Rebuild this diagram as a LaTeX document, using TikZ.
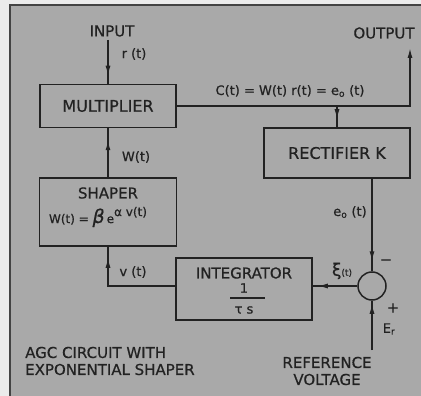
\documentclass[tikz,border=0pt]{standalone}
\usepackage{fontspec}
\setmainfont{DejaVu Sans}[FakeBold=0.6]
\usepackage{tikz}
\usetikzlibrary{arrows.meta,decorations.markings}
\definecolor{sfondo}{HTML}{A9A9A9}
\definecolor{margine}{HTML}{EBEBEB}
\definecolor{inchiostro}{HTML}{222222}

\begin{document}
\begin{tikzpicture}[x=1pt, y=-1pt,
        every node/.style={font=\fontsize{13}{14}\selectfont, text=inchiostro, inner sep=0pt},
        blocco/.style={draw=inchiostro, line width=1.5pt, rectangle,
            font=\fontsize{16}{18}\selectfont},
        titolo/.style={font=\fontsize{15}{17}\selectfont},
        filo/.style={draw=inchiostro, line width=1.5pt},
        punta/.style={postaction={decorate}, decoration={markings,
            mark=at position -#1 with {\arrow{Latex[length=10pt,width=5pt]}}}}]
    % Sfondo grigio con cornice (tagliata a destra e in basso)
    \useasboundingbox (0,0) rectangle (421,396);
    \fill[margine] (0,0) rectangle (421,396);
    \fill[sfondo] (10,5) rectangle (421,396);
    \draw[inchiostro!85, line width=1.5pt] (10,396) -- (10,5) -- (421,5);

    % Blocchi
    \node[blocco, minimum width=136pt, minimum height=43pt] (molt) at (108,106) {MULTIPLIER};
    \node[blocco, minimum width=146pt, minimum height=50pt] (rett) at (337,153) {RECTIFIER K};
    \node[blocco, minimum width=137pt, minimum height=68pt] (form) at (108,212) {};
    \node[blocco, minimum width=136pt, minimum height=62pt] (integ) at (244,289) {};
    \node[draw=inchiostro, line width=1.5pt, circle, minimum size=28pt] (somma) at (372,286) {};

    % Testi dentro i blocchi
    \node[titolo] (formtxt) at (108,193) {SHAPER};
    \node[font=\fontsize{12}{13}\selectfont] (formula) at (98,217)
        {W(t) = {\fontsize{19}{19}\selectfont\itshape β}\,e\raisebox{7pt}{α v(t)}};
    \node[titolo] (integtxt) at (244,273) {INTEGRATOR};
    \node (uno) at (244,288) {1};
    \node (taus) at (244,310) {τ s};
    \draw[filo, line width=1.1pt] (230,298) -- (265,298);

    % Estremi liberi
    \coordinate (ingresso) at (108,40);
    \coordinate (uscita) at (410,48);
    \coordinate (riferim) at (372,350);

    % Collegamenti
    \draw[filo, punta=8pt] (ingresso) -- (molt.north);
    \draw[filo, -{Latex[length=10pt,width=5pt]}] (molt.east) -| (uscita);
    \draw[filo, punta=8pt] (molt.east -| rett.north) -- (rett.north);
    \draw[filo, punta=12pt] (form.north) -- (molt.south);
    \draw[filo, punta=11pt] (integ.west |- somma.west) -| (form.south);
    \draw[filo, punta=10pt] (rett.south -| somma.north) -- (somma.north);
    \draw[filo, punta=5pt] (somma.west) -- (somma.west -| integ.east);
    \draw[filo, punta=3pt] (riferim) -- (somma.south);

    % Etichette
    \node[titolo] (lblin) at (112,31) {INPUT};
    \node[titolo] (lblout) at (384,33) {OUTPUT};
    \node (lblr) at (134,54) {r (t)};
    \node (lblc) at (290,91) {C(t) = W(t) r(t) = e\textsubscript{o} (t)};
    \node (lblw) at (136,157) {W(t)};
    \node (lble) at (350,212) {e\textsubscript{o} (t)};
    \node (lblv) at (133,272) {v (t)};
    \node (lblxi) at (342,271) {{\fontsize{17}{17}\selectfont ξ}{\fontsize{9}{9}\selectfont (t)}};
    \node[titolo] (meno) at (386,262) {−};
    \node[titolo] (piu) at (393,308) {+};
    \node (lblerr) at (389,329) {E\textsubscript{r}};
    \node[titolo, align=center] (lblref) at (327,371) {REFERENCE\\VOLTAGE};
    \node[titolo, align=left, anchor=west] (didasc) at (25,361) {AGC CIRCUIT WITH\\EXPONENTIAL SHAPER};
\end{tikzpicture}
\end{document}
